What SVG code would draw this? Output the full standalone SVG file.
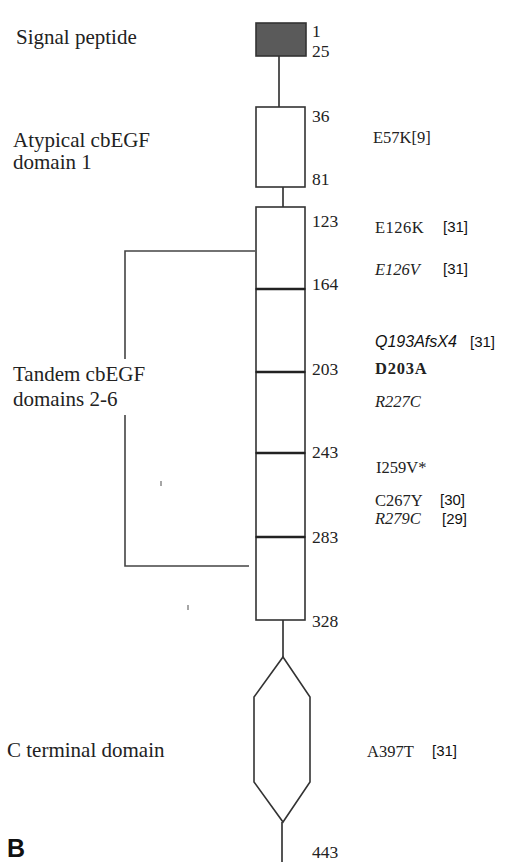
<svg xmlns="http://www.w3.org/2000/svg" width="507" height="862" viewBox="0 0 507 862">
<style>
  .lbl{font-family:"Liberation Serif","Times New Roman",serif;font-size:21px;fill:#222}
  .num{font-family:"Liberation Serif","Times New Roman",serif;font-size:17.5px;fill:#222}
  .mut{font-family:"Liberation Serif","Times New Roman",serif;font-size:16.5px;fill:#222}
  .it{font-style:italic}
  .bold{font-weight:bold;letter-spacing:0.8px}
  .ref{font-family:"Liberation Sans",Arial,sans-serif;font-size:15px;fill:#111}
  .sans-it{font-family:"Liberation Sans",Arial,sans-serif;font-size:16px;font-style:italic;fill:#111}
  .box{fill:#fff;stroke:#333;stroke-width:1.6}
  .div{stroke:#222;stroke-width:2.6}
  .conn{stroke:#555;stroke-width:2;fill:none}
  .br{stroke:#444;stroke-width:1.6;fill:none}
</style>
<rect width="507" height="862" fill="#fff"/>
<g id="connectors">
  <line class="conn" x1="279" y1="56" x2="279" y2="107"/>
  <line class="conn" x1="283" y1="187" x2="283" y2="207"/>
  <line class="conn" x1="283" y1="620" x2="283" y2="657"/>
  <line class="conn" x1="282" y1="822" x2="282" y2="862"/>
</g>
<g id="signal-peptide">
  <rect x="256" y="23" width="50" height="33" fill="#5a5a5a" stroke="#333" stroke-width="1.6"/>
  <text class="lbl" x="16" y="44">Signal peptide</text>
  <text class="num" x="312" y="37">1</text>
  <text class="num" x="312" y="57">25</text>
</g>
<g id="atypical-cbegf-1">
  <rect class="box" x="256" y="107" width="49" height="80"/>
  <text class="lbl" x="13" y="147">Atypical cbEGF</text>
  <text class="lbl" x="13" y="169">domain 1</text>
  <text class="num" x="312" y="122">36</text>
  <text class="num" x="312" y="185">81</text>
  <text class="mut" x="373" y="143">E57K[9]</text>
</g>
<g id="tandem-cbegf">
  <rect class="box" x="256" y="207" width="49" height="82"/>
  <rect class="box" x="256" y="289" width="49" height="83"/>
  <rect class="box" x="256" y="372" width="49" height="81"/>
  <rect class="box" x="256" y="453" width="49" height="84"/>
  <rect class="box" x="256" y="537" width="49" height="83"/>
  <line class="div" x1="256" y1="289" x2="305" y2="289"/>
  <line class="div" x1="256" y1="372" x2="305" y2="372"/>
  <line class="div" x1="256" y1="453" x2="305" y2="453"/>
  <line class="div" x1="256" y1="537" x2="305" y2="537"/>
  <polyline class="br" points="255,251 125,251 125,359"/>
  <polyline class="br" points="125,415 125,566 249,566"/>
  <line x1="161" y1="481" x2="161" y2="486" stroke="#888" stroke-width="1.5"/>
  <line x1="188" y1="605" x2="188" y2="610" stroke="#888" stroke-width="1.5"/>
  <text class="lbl" x="13" y="381">Tandem cbEGF</text>
  <text class="lbl" x="13" y="406">domains 2-6</text>
  <text class="num" x="312" y="227">123</text>
  <text class="num" x="312" y="290">164</text>
  <text class="num" x="312" y="375">203</text>
  <text class="num" x="312" y="458">243</text>
  <text class="num" x="312" y="543">283</text>
  <text class="num" x="312" y="627">328</text>
  <text class="mut" x="375" y="233" letter-spacing="0.5">E126K</text>
  <text class="ref" x="443" y="232">[31]</text>
  <text class="mut it" x="375" y="275">E126V</text>
  <text class="ref" x="443" y="274">[31]</text>
  <text class="sans-it" x="375" y="347">Q193AfsX4</text>
  <text class="ref" x="470" y="347">[31]</text>
  <text class="mut bold" x="375" y="374">D203A</text>
  <text class="mut it" x="375" y="407">R227C</text>
  <text class="mut" x="376" y="473">I259V*</text>
  <text class="mut" x="375" y="506">C267Y</text>
  <text class="ref" x="440" y="505">[30]</text>
  <text class="mut it" x="375" y="524">R279C</text>
  <text class="ref" x="442" y="524">[29]</text>
</g>
<g id="c-terminal">
  <polygon points="283,657 310,697 310,782 283,822 254,782 254,697" fill="#fff" stroke="#333" stroke-width="1.6"/>
  <text class="lbl" x="7" y="757">C terminal domain</text>
  <text class="mut" x="367" y="757">A397T</text>
  <text class="ref" x="432" y="756">[31]</text>
  <text class="num" x="312" y="858">443</text>
</g>
<g id="panel-label">
  <text x="7" y="857" font-family="Liberation Sans,Arial,sans-serif" font-size="25" font-weight="bold" fill="#111">B</text>
</g>
</svg>
